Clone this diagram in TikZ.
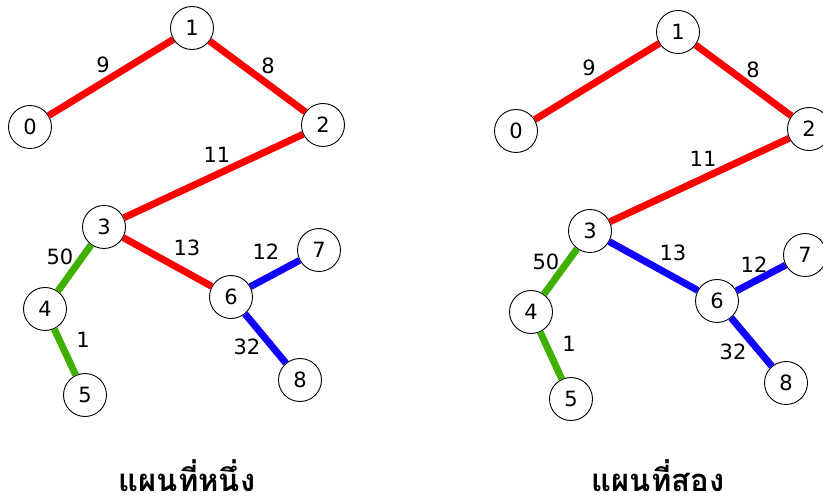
\documentclass[tikz,border=0pt]{standalone}
\usepackage{fontspec}
\setmainfont{DejaVu Sans}
\newfontfamily\thaifont[Script=Thai]{Loma}
\definecolor{egreen}{RGB}{64,176,0}
\definecolor{ered}{RGB}{255,0,0}
\definecolor{eblue}{RGB}{16,0,255}
\begin{document}
\begin{tikzpicture}[x=1pt,y=-1pt,
  vtx/.style={circle,draw=black,line width=0.9pt,fill=white,minimum size=43pt,inner sep=0pt,font=\fontsize{21}{24}\selectfont},
  wlab/.style={font=\fontsize{21}{24}\selectfont,inner sep=0pt},
  redE/.style={draw=ered,line width=7pt},
  blueE/.style={draw=eblue,line width=7pt},
  greenE/.style={draw=egreen,line width=7pt},
  title/.style={font=\thaifont\bfseries\fontsize{31}{34}\selectfont,inner sep=0pt,anchor=base,text depth=2pt}
]
\path[use as bounding box] (0,0) rectangle (823,497);
\clip (0,0) rectangle (823,497);

% ---------- left map ----------
\node[vtx] (a0) at (30,127) {0};
\node[vtx] (a1) at (192,28) {1};
\node[vtx] (a2) at (323,125) {2};
\node[vtx] (a3) at (104,227) {3};
\node[vtx] (a4) at (45,309) {4};
\node[vtx] (a5) at (85,395) {5};
\node[vtx] (a6) at (231,297) {6};
\node[vtx] (a7) at (319,250) {7};
\node[vtx] (a8) at (300,380) {8};

\draw[redE] (a0) -- (a1);
\draw[redE] (a1) -- (a2);
\draw[redE] (a2) -- (a3);
\draw[redE] (a3) -- (a6);
\draw[greenE] (a3) -- (a4);
\draw[greenE] (a4) -- (a5);
\draw[blueE] (a6) -- (a7);
\draw[blueE] (a6) -- (a8);

\node[wlab] (la01) at (103,65) {9};
\node[wlab] (la12) at (268,66) {8};
\node[wlab] (la23) at (217,155) {11};
\node[wlab] (la34) at (60,257) {50};
\node[wlab] (la36) at (187,248) {13};
\node[wlab] (la67) at (266,252) {12};
\node[wlab] (la45) at (83,340) {1};
\node[wlab] (la68) at (247,347) {32};

\node[title] (ta) at (187,491) {แผนที่หนึ่ง};

% ---------- right map ----------
\node[vtx] (b0) at (516,131) {0};
\node[vtx] (b1) at (678,32) {1};
\node[vtx] (b2) at (809,129) {2};
\node[vtx] (b3) at (590,231) {3};
\node[vtx] (b4) at (531,312) {4};
\node[vtx] (b5) at (571,399) {5};
\node[vtx] (b6) at (717,301) {6};
\node[vtx] (b7) at (805,255) {7};
\node[vtx] (b8) at (786,383) {8};

\draw[redE] (b0) -- (b1);
\draw[redE] (b1) -- (b2);
\draw[redE] (b2) -- (b3);
\draw[blueE] (b3) -- (b6);
\draw[greenE] (b3) -- (b4);
\draw[greenE] (b4) -- (b5);
\draw[blueE] (b6) -- (b7);
\draw[blueE] (b6) -- (b8);

\node[wlab] (lb01) at (589,68) {9};
\node[wlab] (lb12) at (753,70) {8};
\node[wlab] (lb23) at (703,159) {11};
\node[wlab] (lb34) at (546,262) {50};
\node[wlab] (lb36) at (673,253) {13};
\node[wlab] (lb67) at (754,265) {12};
\node[wlab] (lb45) at (569,344) {1};
\node[wlab] (lb68) at (733,352) {32};

\node[title] (tb) at (658,491) {แผนที่สอง};
\end{tikzpicture}
\end{document}
